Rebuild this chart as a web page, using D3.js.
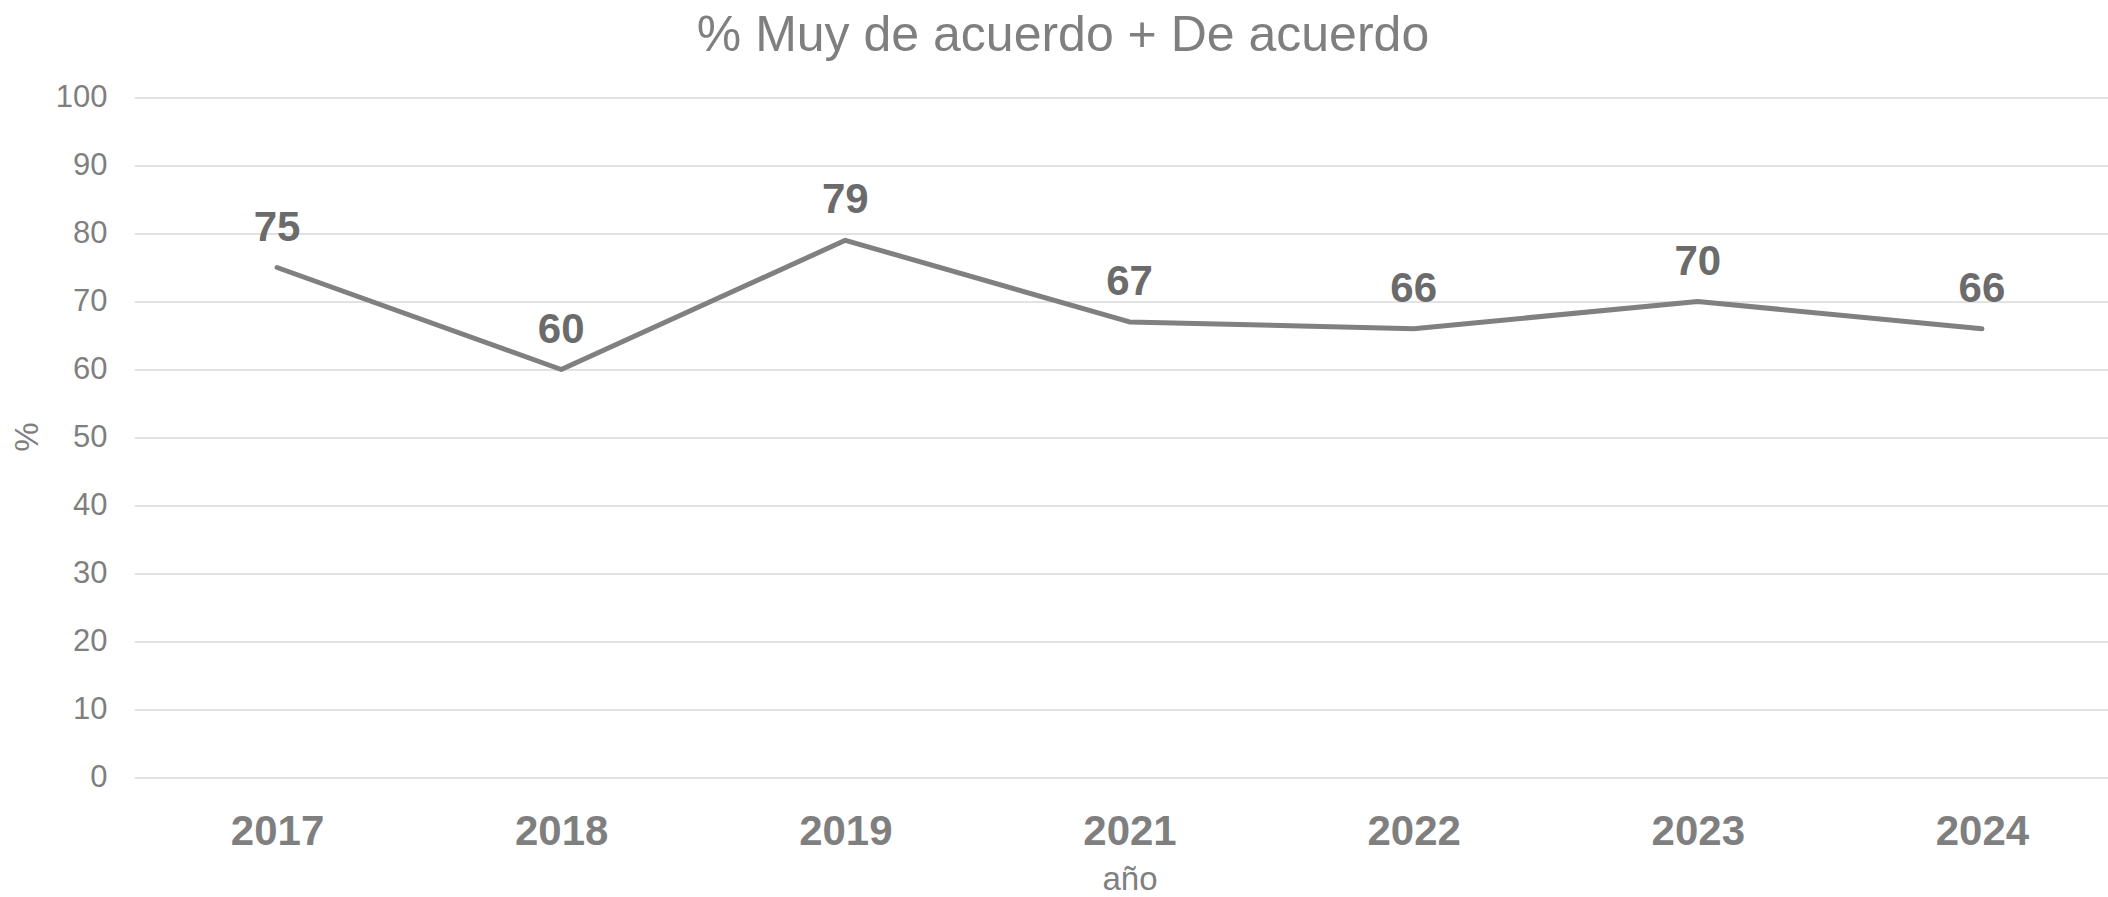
<!DOCTYPE html>
<html>
<head>
<meta charset="utf-8">
<script src="https://cdn.jsdelivr.net/npm/d3@7"></script>
<style>
  body { margin: 0; background: #fff; }
  svg text { font-family: "Liberation Sans", Arial, sans-serif; }
</style>
</head>
<body>
<script>
(function() {

var years = ["2017", "2018", "2019", "2021", "2022", "2023", "2024"];
var values = [75, 60, 79, 67, 66, 70, 66];
var yTicks = [0, 10, 20, 30, 40, 50, 60, 70, 80, 90, 100];

var width = 2108, height = 897;

var svg = d3.select("body").
  append("svg").
  attr("width", width).
  attr("height", height);

var x = d3.scalePoint().
  domain(years).
  range([135, 2124]).
  padding(0.5);

var y = d3.scaleLinear().
  domain([0, 100]).
  range([777.5, 97.5]);

// gridlines + y labels
var yAxis = svg.append("g").
  attr("transform", "translate(134.5,0)").
  call(d3.axisLeft(y).tickValues(yTicks).tickSize(-(width - 134.5)).tickPadding(27));

yAxis.select(".domain").remove();
yAxis.selectAll(".tick line").
  attr("stroke", "#d9d9d9").
  attr("stroke-width", 1.6);
yAxis.selectAll(".tick text").
  attr("fill", "#7f7f7f").
  attr("font-size", 31).
  attr("dy", "0.3em");

// x labels
var xAxis = svg.append("g").
  attr("transform", "translate(0,777.5)").
  call(d3.axisBottom(x).tickSize(0).tickPadding(38));

xAxis.select(".domain").remove();
xAxis.selectAll(".tick text").
  attr("fill", "#7f7f7f").
  attr("font-size", 42).
  attr("font-weight", "bold").
  attr("dy", "0.71em");

var pts = years.map(function(d, i) { return { year: d, v: values[i] }; });

var line = d3.line().
  x(function(d) { return x(d.year); }).
  y(function(d) { return y(d.v); });

svg.append("path").
  datum(pts).
  attr("d", line).
  attr("fill", "none").
  attr("stroke", "#808080").
  attr("stroke-width", 5).
  attr("stroke-linecap", "round").
  attr("stroke-linejoin", "round");

svg.selectAll(".lbl").
  data(pts).
  enter().append("text").
  attr("class", "lbl").
  attr("x", function(d) { return x(d.year); }).
  attr("y", function(d) { return y(d.v) - 27; }).
  attr("text-anchor", "middle").
  attr("font-size", 42).
  attr("font-weight", "bold").
  attr("fill", "#6b6b6b").
  text(function(d) { return d.v; });

// title
svg.append("text").
  attr("x", 1063).
  attr("y", 51).
  attr("text-anchor", "middle").
  attr("font-size", 50).
  attr("fill", "#7f7f7f").
  text("% Muy de acuerdo + De acuerdo");

// axis titles
svg.append("text").
  attr("x", 1130).
  attr("y", 890).
  attr("text-anchor", "middle").
  attr("font-size", 33).
  attr("fill", "#7f7f7f").
  text("año");

svg.append("text").
  attr("transform", "translate(38,437) rotate(-90)").
  attr("text-anchor", "middle").
  attr("font-size", 33).
  attr("fill", "#7f7f7f").
  text("%");

})();
</script>
</body>
</html>
